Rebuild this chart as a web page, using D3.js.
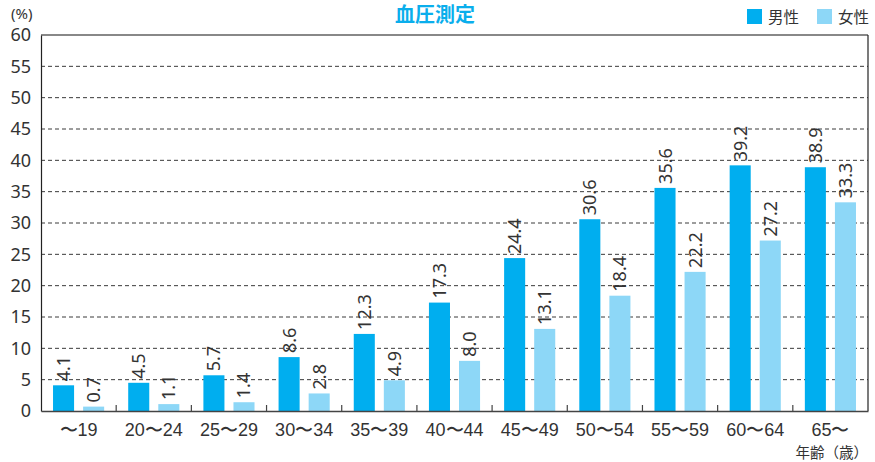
<!DOCTYPE html>
<html>
<head>
<meta charset="utf-8">
<script src="https://cdn.jsdelivr.net/npm/d3@7"></script>
<style>
  html, body { margin: 0; padding: 0; background: #fff; }
  svg { display: block; font-family: "Noto Sans CJK JP", "Noto Sans", sans-serif; }
</style>
</head>
<body>
<svg id="chart" width="875" height="462"></svg>
<script>
// Age groups and shares (%) for blood-pressure measurement
const categories = ["〜19", "20〜24", "25〜29", "30〜34", "35〜39", "40〜44", "45〜49", "50〜54", "55〜59", "60〜64", "65〜"];
const maleValues = [4.1, 4.5, 5.7, 8.6, 12.3, 17.3, 24.4, 30.6, 35.6, 39.2, 38.9];
const femaleValues = [0.7, 1.1, 1.4, 2.8, 4.9, 8.0, 13.1, 18.4, 22.2, 27.2, 33.3];
const yTicks = [0, 5, 10, 15, 20, 25, 30, 35, 40, 45, 50, 55, 60];
const seriesNames = ["男性", "女性"];

const colors = { male: "#00aeef", female: "#8dd7f7" };
const textColor = "#333";
const numFont = "'Noto Sans', sans-serif";

const svg = d3.select("#chart");
const margin = { left: 41, right: 7, top: 35, bottom: 51 };
const W = 875, H = 462;
const innerW = W - margin.left - margin.right;
const innerH = H - margin.top - margin.bottom;

const g = svg.append("g").attr("transform", `translate(${margin.left},${margin.top})`);

const x = d3.scaleBand().domain(categories).range([0, innerW]).paddingInner(0).paddingOuter(0);
const sub = d3.scaleBand().domain(["male", "female"]).range([0, x.bandwidth()]).paddingInner(0.3).paddingOuter(0.4);
const y = d3.scaleLinear().domain([0, 60]).range([innerH, 0]);

// Horizontal dashed gridlines
g.append("g")
  .selectAll("line")
  .data(yTicks.filter(t => t > 0 && t < 60))
  .join("line")
  .attr("x1", 0).attr("x2", innerW)
  .attr("y1", d => y(d)).attr("y2", d => y(d))
  .attr("stroke", "#3a3a3a")
  .attr("stroke-width", 1)
  .attr("stroke-dasharray", "4,3");

// Top border line
g.append("line")
  .attr("x1", 0).attr("x2", innerW)
  .attr("y1", y(60)).attr("y2", y(60))
  .attr("stroke", "#888").attr("stroke-width", 2);

// Right border
g.append("line")
  .attr("x1", innerW).attr("x2", innerW)
  .attr("y1", y(60)).attr("y2", y(0))
  .attr("stroke", "#222").attr("stroke-width", 1.2);

// Bars with rotated value labels
const rows = categories.map((c, i) => ({ c, male: maleValues[i], female: femaleValues[i] }));
const groups = g.selectAll("g.grp").data(rows).join("g")
  .attr("class", "grp")
  .attr("transform", d => `translate(${x(d.c)},0)`);

["male", "female"].forEach(key => {
  groups.append("rect")
    .attr("x", sub(key))
    .attr("width", sub.bandwidth())
    .attr("y", d => y(d[key]))
    .attr("height", d => y(0) - y(d[key]))
    .attr("fill", colors[key]);

  groups.append("text")
    .attr("transform", d => `translate(${sub(key) + sub.bandwidth() / 2 + 6.5},${y(d[key]) - 4}) rotate(-90)`)
    .attr("text-anchor", "start")
    .attr("font-size", 18)
    .attr("font-family", numFont)
    .attr("fill", textColor)
    .text(d => d[key].toFixed(1));
});

// Y axis
const yAxis = g.append("g").call(d3.axisLeft(y).tickValues(yTicks).tickSize(0).tickPadding(10));
yAxis.select(".domain").attr("stroke", "#222").attr("stroke-width", 1.2);
yAxis.selectAll("text").attr("font-size", 18).attr("fill", textColor).attr("font-family", numFont);

// X axis
const xAxis = g.append("g").attr("transform", `translate(0,${innerH})`)
  .call(d3.axisBottom(x).tickSize(0).tickPadding(12));
xAxis.select(".domain").attr("stroke", "#444").attr("stroke-width", 1.5);
xAxis.selectAll("text").attr("font-size", 18).attr("fill", textColor);

// Tick marks between age groups
g.append("g").selectAll("line")
  .data(categories.slice(1))
  .join("line")
  .attr("x1", d => x(d)).attr("x2", d => x(d))
  .attr("y1", innerH - 6).attr("y2", innerH)
  .attr("stroke", "#444").attr("stroke-width", 1.2);

// Unit labels
svg.append("text").attr("x", 11).attr("y", 19).attr("font-size", 15).attr("fill", textColor)
  .attr("font-family", numFont).text("(%)");
svg.append("text").attr("x", W - 7).attr("y", 458).attr("text-anchor", "end")
  .attr("font-size", 14.5).attr("fill", textColor).text("年齢（歳）");

// Title
svg.append("text").attr("x", 435).attr("y", 22).attr("text-anchor", "middle")
  .attr("font-size", 20).attr("font-weight", "bold").attr("fill", "#0aaeec").text("血圧測定");

// Legend
const legend = svg.append("g");
const legendItems = [
  { name: seriesNames[0], color: colors.male, x: 747 },
  { name: seriesNames[1], color: colors.female, x: 817 }
];
legendItems.forEach(it => {
  legend.append("rect").attr("x", it.x).attr("y", 9).attr("width", 15).attr("height", 15).attr("fill", it.color);
  legend.append("text").attr("x", it.x + 21).attr("y", 23).attr("font-size", 15.5).attr("fill", textColor).text(it.name);
});
</script>
</body>
</html>
